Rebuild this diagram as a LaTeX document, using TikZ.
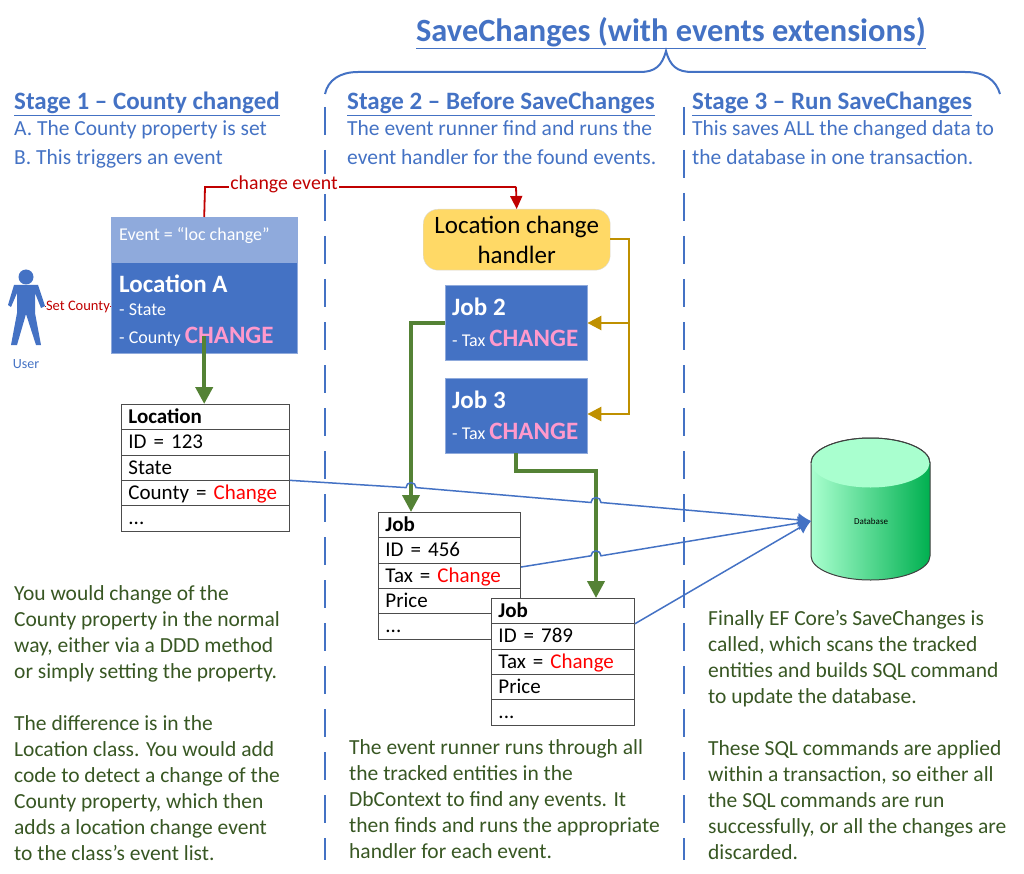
\documentclass[tikz,border=0pt]{standalone}
\usepackage{fontspec}
\setmainfont{Carlito}
\usetikzlibrary{shapes.multipart,arrows.meta}
\definecolor{headblue}{HTML}{4472C4}
\definecolor{evblue}{HTML}{8FAADC}
\definecolor{notegreen}{HTML}{385723}
\definecolor{flowgreen}{HTML}{548235}
\definecolor{handlergold}{HTML}{FFD966}
\definecolor{flowgold}{HTML}{BF9000}
\definecolor{flowred}{HTML}{C00000}
\definecolor{changepink}{HTML}{FF99CC}
\definecolor{dblight}{HTML}{A9FFCF}
\definecolor{dbgreen}{HTML}{00B050}
\tikzset{
	head/.style={anchor=west,inner sep=0pt,text=headblue,font=\fontsize{25}{28}\selectfont\bfseries},
	intro/.style={anchor=north west,inner sep=0pt,text=headblue,align=left,font=\fontsize{21.5}{29}\selectfont},
	note/.style={anchor=north west,inner sep=0pt,text=notegreen,align=left,font=\fontsize{21.5}{26}\selectfont},
	entity/.style={anchor=north west,fill=headblue,draw=headblue!60!white,inner sep=0pt},
	small/.style={anchor=west,inner sep=0pt,text=white,font=\fontsize{18}{20}\selectfont},
	bigword/.style={anchor=west,inner sep=0pt,text=white,font=\fontsize{25}{26}\selectfont\bfseries},
	table/.style={anchor=north west,draw=black!70,line width=0.9pt,rectangle split,rectangle split parts=5,rectangle split part align=left,inner xsep=7pt,inner ysep=0.7pt,font=\fontsize{21}{23}\selectfont},
	divider/.style={headblue,line width=1.5pt,dash pattern=on 28pt off 15pt},
	save/.style={headblue,line width=1.5pt,-{Latex[length=13pt,width=14pt]}},
	flow/.style={flowgreen,line width=4pt,-{Triangle[length=17pt,width=17pt]}},
	gold/.style={flowgold,line width=2.6pt,-{Triangle[length=14pt,width=14pt]}},
	event/.style={flowred,line width=1.8pt}
}
\newcommand{\chg}[1]{\textcolor{red}{#1}}
\newcommand{\pink}{\textcolor{changepink}{\fontsize{25}{26}\selectfont\bfseries CHANGE}}
\newcommand{\rowstrut}{\rule[-5pt]{0pt}{23pt}}
\begin{document}
\begin{tikzpicture}[x=1pt,y=-1pt]
\useasboundingbox (0,0) rectangle (1024,874);
% heading and brace
\node[anchor=center,inner sep=0pt,text=headblue,font=\fontsize{32.4}{36}\selectfont\bfseries] (title) at (671,33) {\underline{SaveChanges (with events extensions)}};
\draw[headblue,line width=2pt] (325,94) .. controls (328,80) and (340,72) .. (358,72) -- (640,72) .. controls (655,72) and (662,66) .. (666,51) .. controls (670,66) and (677,72) .. (692,72) -- (965,72) .. controls (985,72) and (996,80) .. (1000,94);
% dividers
\coordinate (dtwotop) at (325,107);
\coordinate (dtwoend) at (325,860);
\coordinate (dthreetop) at (684,107);
\coordinate (dthreeend) at (684,860);
\draw[divider] (dtwotop) -- (dtwoend);
\draw[divider] (dthreetop) -- (dthreeend);
% stage texts
\node[head] (stageone) at (14,104) {\underline{Stage 1 – County changed}};
\node[head] (stagetwo) at (347,104) {\underline{Stage 2 – Before SaveChanges}};
\node[head] (stagethree) at (692,104) {\underline{Stage 3 – Run SaveChanges}};
\node[intro] (introone) at (14,120) {A. The County property is set\\B. This triggers an event};
\node[intro] (introtwo) at (347,120) {The event runner find and runs the\\event handler for the found events.};
\node[intro] (introthree) at (692,120) {This saves ALL the changed data to\\the database in one transaction.};
% location stage
\node[entity,fill=evblue,draw=evblue,minimum width=186pt,minimum height=45pt] (event) at (111,217) {};
\node[small] (eventtext) at (119,236) {Event = “loc change”};
\node[entity,minimum width=186pt,minimum height=91pt] (locbox) at (111,262) {};
\node[bigword] (loctitle) at (119,284) {Location A};
\node[small] (locstate) at (119,310) {- State};
\node[small] (loccounty) at (119,337) {- County \pink};
\node[table,text width=154pt] (location) at (121,404) {\rowstrut\textbf{Location}\nodepart{two}\rowstrut ID = 123\nodepart{three}\rowstrut State\nodepart{four}\rowstrut County = \chg{Change}\nodepart{five}\rowstrut ...};
% user
\fill[headblue] (26,277) circle (7.5pt);
\fill[headblue] (14,285) -- (38,285) -- (45,306) -- (41,308) -- (35,293) -- (35,313) -- (41,345) -- (36,345) -- (26,314) -- (17,345) -- (11,345) -- (17,313) -- (17,293) -- (11,307) -- (8,305) -- cycle;
\coordinate (hand) at (45,306);
\node[inner sep=0pt,text=headblue,font=\fontsize{14}{16}\selectfont] (user) at (26,364) {User};
\draw[flowred,line width=0.6pt] (hand) -- (locbox.west |- hand);
\node[inner sep=0.5pt,fill=white,text=flowred,font=\fontsize{14.5}{16}\selectfont] (setcounty) at (78,307) {Set County};
% handler and jobs
\node[anchor=north west,rounded corners=15pt,fill=handlergold,draw=black!15,minimum width=187pt,minimum height=61pt,align=center,inner sep=0pt,font=\fontsize{25}{30}\selectfont] (handler) at (423,209) {Location change\\handler};
\node[entity,minimum width=142pt,minimum height=75pt] (jobtwo) at (445,285) {};
\node[bigword] (jobtwotitle) at (452,307) {Job 2};
\node[small] (jobtwotax) at (452,338) {- Tax \pink};
\node[entity,minimum width=142pt,minimum height=75pt] (jobthree) at (445,378) {};
\node[bigword] (jobthreetitle) at (452,400) {Job 3};
\node[small] (jobthreetax) at (452,431) {- Tax \pink};
\node[table,text width=128pt] (jobone) at (378,512) {\rowstrut\textbf{Job}\nodepart{two}\rowstrut ID = 456\nodepart{three}\rowstrut Tax = \chg{Change}\nodepart{four}\rowstrut Price\nodepart{five}\rowstrut ...};
\node[table,fill=white,text width=129pt] (jobtable) at (491,598) {\rowstrut\textbf{Job}\nodepart{two}\rowstrut ID = 789\nodepart{three}\rowstrut Tax = \chg{Change}\nodepart{four}\rowstrut Price\nodepart{five}\rowstrut ...};
% database
\draw[black!75,line width=1pt,left color=dblight,middle color=dblight!75!dbgreen,right color=dbgreen] (811,463) arc (180:360:59.5 and 25) -- (930,556) arc (0:180:59.5 and 24) -- cycle;
\fill[dblight] (870.5,463) ellipse (59pt and 24.5pt);
\draw[black!75,line width=1pt] (811,463) arc (180:360:59.5 and 25);
\node[inner sep=0pt,font=\fontsize{9}{10}\selectfont] (dblabel) at (871,521) {Database};
\coordinate (dbin) at (811,521);
% connectors
\draw[event] (event.north) -- (205,187) -- (516,187);
\draw[event,-{Triangle[length=13pt,width=12pt]}] (516,187) -- (handler.north);
\node[inner sep=1pt,fill=white,text=flowred,font=\fontsize{19.8}{22}\selectfont] (changeevent) at (284,184) {change event};
\draw[flow] (locbox.south |- 0,336) -- (location.north -| locbox.south);
\draw[flow] (jobtwo.west |- 0,323) -- (411,323) -- (jobone.north -| 411,0);
\draw[flow] (516,453) -- (516,471) -- (596,471) -- (jobtable.north -| 596,0);
\draw[gold] (handler.east |- 0,239) -- (629,239) -- (629,323) -- (jobtwo.east |- 0,323);
\draw[gold] (629,323) -- (629,414) -- (jobthree.east |- 0,414);
\draw[save] (location.three split east) -- (406,487.6) arc (180:360:5) -- (591,502.5) arc (180:360:5) -- (dbin);
\draw[save] ([yshift=-4pt]jobone.two split east) -- (591,555.8) arc (180:360:5) -- (dbin);
\draw[save] (jobtable.text split east) -- (dbin);
% notes
\node[note] (noteone) at (14,585) {You would change of the\\County property in the normal\\way, either via a DDD method\\or simply setting the property.\\[26pt]The difference is in the\\Location class. You would add\\code to detect a change of the\\County property, which then\\adds a location change event\\to the class’s event list.};
\node[note] (notetwo) at (349,739) {The event runner runs through all\\the tracked entities in the\\DbContext to find any events. It\\then finds and runs the appropriate\\handler for each event.};
\node[note] (notethree) at (708,610) {Finally EF Core’s SaveChanges is\\called, which scans the tracked\\entities and builds SQL command\\to update the database.\\[26pt]These SQL commands are applied\\within a transaction, so either all\\the SQL commands are run\\successfully, or all the changes are\\discarded.};
\end{tikzpicture}
\end{document}
